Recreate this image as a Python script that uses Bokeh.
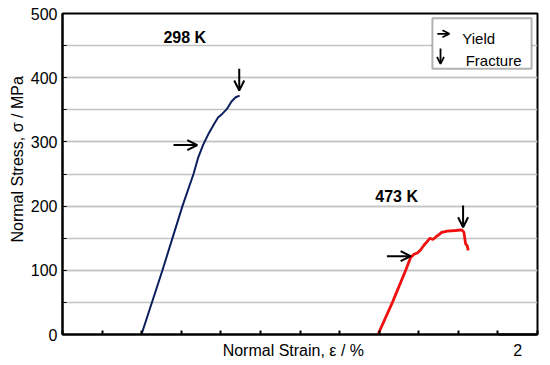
import numpy as np
from bokeh.plotting import figure
from bokeh.models import (Label, Arrow, OpenHead, FixedTicker, BoxAnnotation, Range1d, LinearAxis)
from bokeh.embed import file_html
from bokeh.resources import INLINE

# ---- data (strain in %, stress in MPa) ----
strain_298 = [3.99, 5.05, 6.06, 6.62, 6.85, 7.10, 7.35, 7.66, 7.86, 8.08, 8.30, 8.54, 8.75, 8.95]
stress_298 = [0, 100, 200, 250, 275, 295, 311, 328, 338, 344, 351, 363, 369.5, 372]

strain_473 = [15.94, 16.67, 17.34, 17.59, 17.76, 17.93, 18.10, 18.26, 18.40, 18.57, 18.72, 18.85,
              19.02, 19.16, 19.44, 19.86, 20.17, 20.28, 20.33, 20.37, 20.45, 20.50]
stress_473 = [0, 50, 100, 120, 125, 127, 132, 139, 144, 150, 148, 151.5,
              155.5, 159, 161, 162, 163, 159.5, 149, 141, 138, 131]

temps = ["298 K", "473 K"]
label_strain = [6.18, 16.88]
label_stress = [462, 215]

yield_strain = [6.81, 17.59]
yield_stress = [295, 122]
fracture_strain = [8.93, 20.24]
fracture_stress = [380, 167]

y_ticks = [0, 100, 200, 300, 400, 500]
x_ticks = list(range(0, 25, 2))
SCALE = 2          # length of the strain scale bar (%)
X_MAX = 24

FONT = "Liberation Sans"

p = figure(frame_width=475, frame_height=321, output_backend="svg", toolbar_location=None,
           x_range=Range1d(0, X_MAX), y_range=Range1d(0, 500),
           min_border_left=62, min_border_right=13, min_border_top=13, min_border_bottom=28)
p.background_fill_color = "white"
p.border_fill_color = "white"
p.outline_line_color = "black"
p.outline_line_width = 2

# axes (x: unlabeled ticks pointing inward)
p.xaxis.ticker = FixedTicker(ticks=x_ticks)
p.xaxis.major_label_overrides = {t: "" for t in x_ticks}
p.xaxis.major_label_text_font_size = "4px"
p.xaxis.major_label_text_color = "black"
p.xaxis.major_label_standoff = 1
p.xaxis.major_tick_in = 4
p.xaxis.major_tick_out = 0
p.xaxis.minor_tick_line_color = None
p.xaxis.axis_line_width = 2
p.xaxis.major_tick_line_width = 2
p.xaxis.major_tick_line_color = "black"
p.xaxis.axis_line_color = "black"

p.yaxis.ticker = FixedTicker(ticks=y_ticks, minor_ticks=list(range(0, 501, 50)))
p.yaxis.major_tick_in = 4
p.yaxis.major_tick_out = 0
p.yaxis.minor_tick_in = 4
p.yaxis.minor_tick_out = 0
p.yaxis.axis_line_width = 2
p.yaxis.axis_line_color = "black"
p.yaxis.major_tick_line_color = "black"
p.yaxis.minor_tick_line_color = "black"
p.yaxis.major_label_text_font = FONT
p.yaxis.major_label_text_font_size = "16px"
p.yaxis.major_label_text_color = "black"
p.yaxis.major_label_standoff = 5

p.xgrid.grid_line_color = None
p.ygrid.grid_line_color = "#c4c4c4"
p.ygrid.grid_line_width = 1.5
p.ygrid.minor_grid_line_color = "#c4c4c4"
p.ygrid.minor_grid_line_width = 1.5

# curves
p.line(strain_298, stress_298, line_color="#0b1f5e", line_width=2)
p.line(strain_473, stress_473, line_color="#f01010", line_width=2.8)

# temperature labels
for t, xs, ys in zip(temps, label_strain, label_stress):
    p.add_layout(Label(x=xs, y=ys, text=t, text_font=FONT, text_font_size="16px",
                       text_font_style="bold", text_align="center", text_baseline="alphabetic",
                       text_color="black"))

# yield / fracture arrows
H_LEN = 1.2   # strain length of yield arrows
V_LEN = 34    # stress length of fracture arrows
for xs, ys in zip(yield_strain, yield_stress):
    p.add_layout(Arrow(end=OpenHead(size=10, line_width=2, line_color="black"),
                       x_start=xs - H_LEN, y_start=ys, x_end=xs, y_end=ys,
                       line_width=2, line_color="black"))
for xs, ys in zip(fracture_strain, fracture_stress):
    p.add_layout(Arrow(end=OpenHead(size=10, line_width=2, line_color="black"),
                       x_start=xs, y_start=ys + V_LEN, x_end=xs, y_end=ys,
                       line_width=2, line_color="black"))

# legend box
p.add_layout(BoxAnnotation(left=18.69, right=23.70, top=492.7, bottom=413.9,
                           fill_color="white", fill_alpha=1.0, line_color="black", line_width=2,
                           level="annotation"))
p.add_layout(Arrow(end=OpenHead(size=7, line_width=1.8, line_color="black"),
                   x_start=18.94, y_start=468.4, x_end=19.55, y_end=468.4,
                   line_width=1.8, line_color="black"))
p.add_layout(Arrow(end=OpenHead(size=7, line_width=1.8, line_color="black"),
                   x_start=19.1, y_start=445.5, x_end=19.1, y_end=421.6,
                   line_width=1.8, line_color="black"))
p.add_layout(Label(x=20.2, y=460.6, text="Yield", text_font=FONT, text_font_size="15px",
                   text_color="black", text_baseline="alphabetic"))
p.add_layout(Label(x=20.37, y=426.8, text="Fracture", text_font=FONT, text_font_size="15px",
                   text_color="black", text_baseline="alphabetic"))

# scale bar: an extra axis spanning SCALE units, labelled with its length;
# it also carries the x-axis title
bar_mid = X_MAX - SCALE / 2
bar_axis = LinearAxis(bounds=(X_MAX - SCALE + 0.03, X_MAX - 0.05), ticker=FixedTicker(ticks=[bar_mid]),
                      major_label_overrides={bar_mid: str(SCALE)},
                      major_label_text_font=FONT, major_label_text_font_size="16px",
                      major_label_text_color="black", major_label_standoff=9,
                      major_tick_line_color=None, minor_tick_line_color=None,
                      major_tick_in=0, major_tick_out=0,
                      axis_line_width=1.8, axis_line_color="black",
                      axis_label="Normal Strain, ε / %   ", axis_label_standoff=-17,
                      axis_label_text_font=FONT, axis_label_text_font_size="16px",
                      axis_label_text_font_style="normal", axis_label_text_color="black")
p.add_layout(bar_axis, "below")

# y axis title (rotated, in the left panel)
p.add_layout(Label(x=-2.26, y=143.3, text="Normal Stress, σ / MPa", angle=np.pi / 2,
                   text_font=FONT, text_font_size="16px", text_color="black",
                   text_baseline="alphabetic"), "left")

open("out.html", "w").write(file_html(p, INLINE))
